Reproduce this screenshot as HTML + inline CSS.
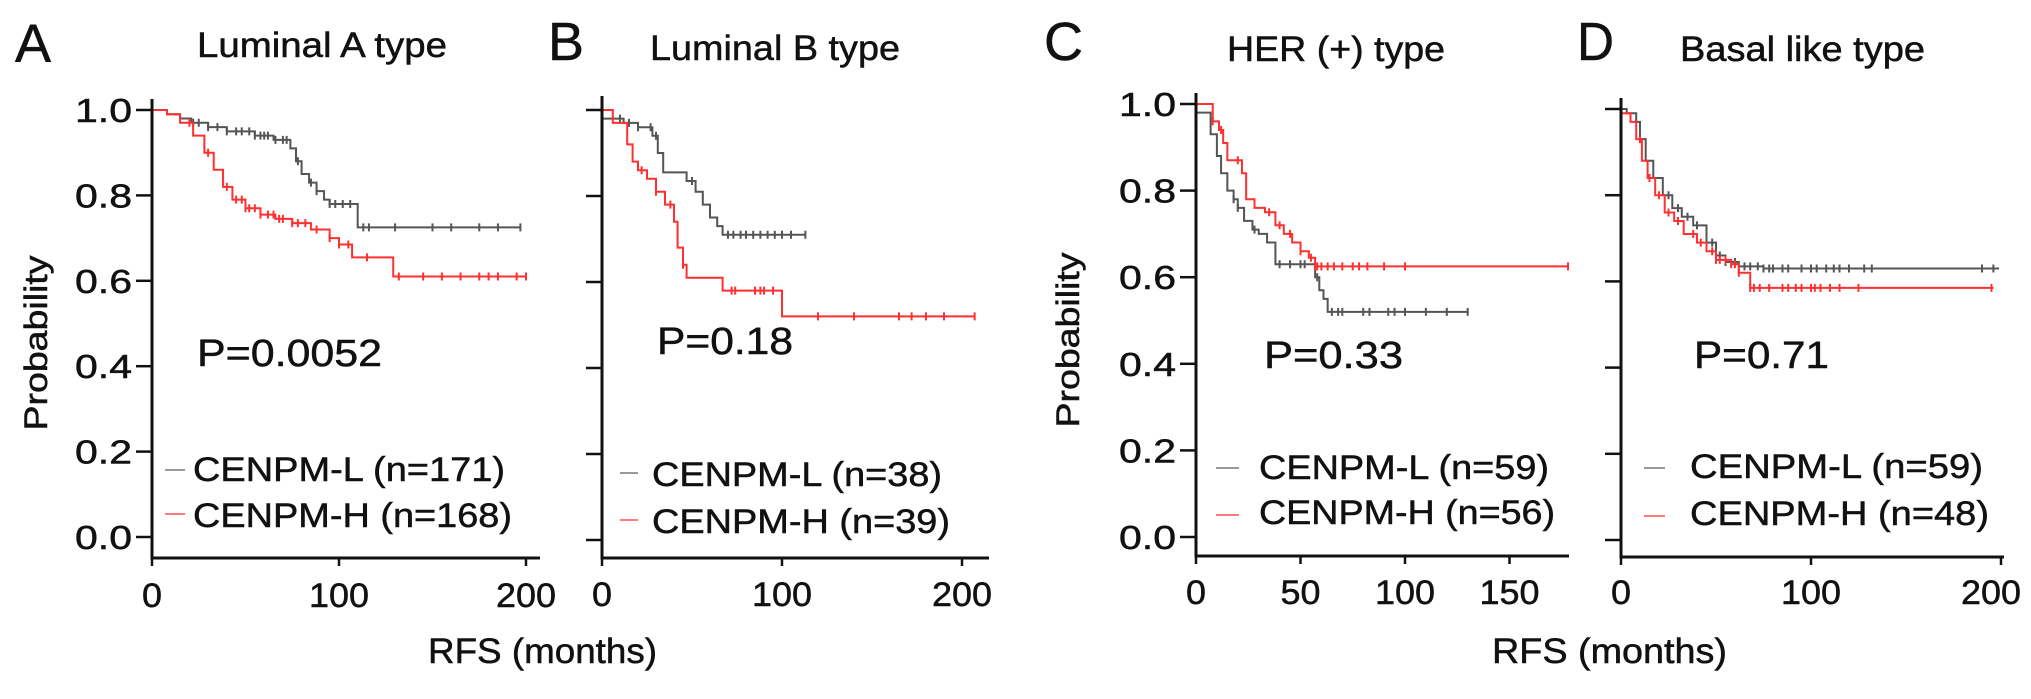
<!DOCTYPE html>
<html><head><meta charset="utf-8">
<style>
html,body{margin:0;padding:0;background:#fff;}
svg{display:block;font-family:"Liberation Sans",Arial,sans-serif;}
</style></head>
<body>
<svg id="fig" width="2031" height="699" viewBox="0 0 2031 699" xmlns="http://www.w3.org/2000/svg">
  <g fill="#111" stroke="#111" stroke-width="0.5">
    <text x="15" y="62" font-size="54" textLength="36" lengthAdjust="spacingAndGlyphs">A</text>
    <text x="548" y="60" font-size="54" textLength="36" lengthAdjust="spacingAndGlyphs">B</text>
    <text x="1044" y="60" font-size="54" textLength="39" lengthAdjust="spacingAndGlyphs">C</text>
    <text x="1577" y="60" font-size="54" textLength="37" lengthAdjust="spacingAndGlyphs">D</text>

    <text x="197" y="57" font-size="35" textLength="250" lengthAdjust="spacingAndGlyphs">Luminal A type</text>
    <text x="650" y="60" font-size="35" textLength="250" lengthAdjust="spacingAndGlyphs">Luminal B type</text>
    <text x="1227" y="61" font-size="35" textLength="218" lengthAdjust="spacingAndGlyphs">HER (+) type</text>
    <text x="1680" y="61" font-size="35" textLength="245" lengthAdjust="spacingAndGlyphs">Basal like type</text>

    <text transform="translate(47,343) rotate(-90)" text-anchor="middle" font-size="32" textLength="175" lengthAdjust="spacingAndGlyphs">Probability</text>
    <text transform="translate(1079,340) rotate(-90)" text-anchor="middle" font-size="32" textLength="175" lengthAdjust="spacingAndGlyphs">Probability</text>

    <text x="428" y="663" font-size="35" textLength="229" lengthAdjust="spacingAndGlyphs">RFS (months)</text>
    <text x="1492" y="663" font-size="35" textLength="235" lengthAdjust="spacingAndGlyphs">RFS (months)</text>

    <text x="197" y="366" font-size="38" textLength="185" lengthAdjust="spacingAndGlyphs">P=0.0052</text>
    <text x="657" y="354" font-size="38" textLength="136" lengthAdjust="spacingAndGlyphs">P=0.18</text>
    <text x="1264" y="368" font-size="38" textLength="139" lengthAdjust="spacingAndGlyphs">P=0.33</text>
    <text x="1694" y="368" font-size="38" textLength="135" lengthAdjust="spacingAndGlyphs">P=0.71</text>

    <text x="193" y="481" font-size="34" textLength="312" lengthAdjust="spacingAndGlyphs">CENPM-L (n=171)</text>
    <text x="193" y="527" font-size="34" textLength="319" lengthAdjust="spacingAndGlyphs">CENPM-H (n=168)</text>
    <text x="652" y="486" font-size="34" textLength="290" lengthAdjust="spacingAndGlyphs">CENPM-L (n=38)</text>
    <text x="652" y="533" font-size="34" textLength="298" lengthAdjust="spacingAndGlyphs">CENPM-H (n=39)</text>
    <text x="1259" y="479" font-size="34" textLength="290" lengthAdjust="spacingAndGlyphs">CENPM-L (n=59)</text>
    <text x="1259" y="524" font-size="34" textLength="296" lengthAdjust="spacingAndGlyphs">CENPM-H (n=56)</text>
    <text x="1690" y="478" font-size="34" textLength="293" lengthAdjust="spacingAndGlyphs">CENPM-L (n=59)</text>
    <text x="1690" y="525" font-size="34" textLength="299" lengthAdjust="spacingAndGlyphs">CENPM-H (n=48)</text>
  </g>
  <g stroke-width="2">
    <line x1="165" y1="470" x2="185" y2="470" stroke="#999"/>
    <line x1="165" y1="514" x2="185" y2="514" stroke="#ff7a7a"/>
    <line x1="620" y1="473" x2="638" y2="473" stroke="#999"/>
    <line x1="620" y1="520" x2="638" y2="520" stroke="#ff7a7a"/>
    <line x1="1216" y1="468" x2="1239" y2="468" stroke="#999"/>
    <line x1="1216" y1="515" x2="1239" y2="515" stroke="#ff7a7a"/>
    <line x1="1644" y1="468" x2="1665" y2="468" stroke="#999"/>
    <line x1="1644" y1="516" x2="1665" y2="516" stroke="#ff7a7a"/>
  </g>
</svg>
<script>
// ---- Panel A (Luminal A) ----
const aTimesL=[0,8,15,21,30,40,55,65,74,77,80,84,88,92,95,110,197];
const aSurvL=[1,0.99,0.98,0.97,0.96,0.95,0.94,0.93,0.91,0.88,0.85,0.83,0.81,0.79,0.78,0.725,0.725];
const aTimesH=[0,8,15,22,28,33,38,43,50,58,66,75,85,95,100,107,129,200];
const aSurvH=[1,0.99,0.97,0.94,0.90,0.86,0.82,0.79,0.77,0.755,0.745,0.735,0.72,0.70,0.685,0.655,0.61,0.61];
const aCensL=[22,25,30,35,40,45,48,52,55,58,60,62,66,70,72,78,85,88,95,98,102,106,113,116,130,150,160,175,185,197];
const aCensH=[20,30,40,45,48,50,52,55,58,62,65,68,70,75,78,82,88,95,100,105,115,132,145,155,165,175,180,185,195,200];
// ---- Panel B (Luminal B) ----
const bTimesL=[0,12,20,28,31,34,47,52,56,60,64,67,113];
const bSurvL=[0.98,0.97,0.96,0.94,0.90,0.855,0.835,0.81,0.78,0.75,0.73,0.71,0.71];
const bTimesH=[0,6,14,17,20,25,30,35,40,42,45,47,67,100,207];
const bSurvH=[1,0.97,0.92,0.88,0.86,0.84,0.81,0.78,0.74,0.68,0.64,0.61,0.58,0.52,0.52];
const bCensL=[10,15,20,27,30,50,70,73,77,80,84,88,92,96,100,105,113];
const bCensH=[22,30,38,45,72,74,85,88,90,95,120,140,165,172,180,190,207];
// ---- Panel C (HER+) ----
const cTimesL=[0,7,10,12,15,18,20,23,27,30,34,38,57,59,61,63,130];
const cSurvL=[0.98,0.93,0.88,0.84,0.80,0.78,0.76,0.73,0.71,0.70,0.68,0.63,0.60,0.57,0.55,0.52,0.52];
const cTimesH=[0,8,11,13,15,22,24,28,33,38,42,46,50,54,57,178];
const cSurvH=[1,0.96,0.94,0.91,0.87,0.84,0.78,0.76,0.75,0.72,0.70,0.68,0.66,0.645,0.625,0.625];
const cCensL=[18,20,28,40,45,50,52,58,65,68,70,80,83,92,95,100,110,120,130];
const cCensH=[8,12,20,35,40,45,50,55,57,58,60,63,66,70,75,78,82,90,100,178];
// ---- Panel D (Basal like) ----
const dTimesL=[0,3,8,10,13,17,22,27,32,38,45,50,55,62,75,199];
const dSurvL=[1,0.99,0.97,0.93,0.88,0.84,0.80,0.77,0.75,0.73,0.69,0.66,0.645,0.635,0.63,0.63];
const dTimesH=[0,5,8,11,14,18,23,28,33,40,45,50,58,62,68,196];
const dSurvH=[0.99,0.97,0.93,0.88,0.84,0.80,0.76,0.74,0.71,0.69,0.67,0.65,0.64,0.62,0.585,0.585];
const dCensL=[25,30,35,40,48,52,55,60,65,68,72,75,78,80,85,88,95,100,103,108,112,115,120,128,132,190,196];
const dCensH=[10,15,20,25,30,38,42,48,50,52,55,58,60,62,68,70,73,78,85,88,92,95,100,102,105,110,115,125,195];
// ---- tick labels ----
const yTickValues=[0,0.2,0.4,0.6,0.8,1.0];
const yTickLabels=["0.0","0.2","0.4","0.6","0.8","1.0"];
const xTicksA=[0,100,200];
const xTicksB=[0,100,200];
const xTicksC=[0,50,100,150];
const xTicksD=[0,100,200];

const NS="http://www.w3.org/2000/svg";
const svg=document.getElementById('fig');

const panels=[
 {id:'a',x0:152,ppm:1.87,y1:110,y0:537,ax:558,xEnd:540,yTop:99,lblBase:607,yLabels:true,
  tL:aTimesL,sL:aSurvL,tH:aTimesH,sH:aSurvH,cL:aCensL,cH:aCensH,xt:xTicksA},
 {id:'b',x0:602,ppm:1.8,y1:110,y0:540,ax:558,xEnd:989,yTop:96,lblBase:606,yLabels:false,
  tL:bTimesL,sL:bSurvL,tH:bTimesH,sH:bSurvH,cL:bCensL,cH:bCensH,xt:xTicksB},
 {id:'c',x0:1196,ppm:2.09,y1:104,y0:537,ax:556,xEnd:1569,yTop:93,lblBase:604,yLabels:true,
  tL:cTimesL,sL:cSurvL,tH:cTimesH,sH:cSurvH,cL:cCensL,cH:cCensH,xt:xTicksC},
 {id:'d',x0:1621,ppm:1.9,y1:109,y0:540,ax:557,xEnd:2004,yTop:98,lblBase:604,yLabels:false,
  tL:dTimesL,sL:dSurvL,tH:dTimesH,sH:dSurvH,cL:dCensL,cH:dCensH,xt:xTicksD}
];

function survAt(t,times,surv){let v=surv[0];for(let i=0;i<times.length;i++){if(times[i]<=t)v=surv[i];}return v;}

panels.forEach(p=>{
  const X=m=>p.x0+m*p.ppm;
  const Y=v=>p.y0-(p.y0-p.y1)*v;
  const g=document.createElementNS(NS,'g');
  
  
  svg.appendChild(g);

  [[p.tL,p.sL,p.cL,'#555','low'],[p.tH,p.sH,p.cH,'#ff3030','high']].forEach(([t,s,c,col,nm])=>{
    let d='M'+X(t[0])+' '+Y(s[0]);
    for(let i=1;i<t.length;i++){d+=' H'+X(t[i])+' V'+Y(s[i]);}
    const path=document.createElementNS(NS,'path');
    path.setAttribute('d',d);
    path.setAttribute('fill','none');
    path.setAttribute('stroke',col);
    path.setAttribute('stroke-width','2');
    
    
    g.appendChild(path);
    let cd='';
    c.forEach(m=>{const yy=Y(survAt(m,t,s));cd+='M'+X(m)+' '+(yy-4)+' V'+(yy+4)+' ';});
    const cp=document.createElementNS(NS,'path');
    cp.setAttribute('d',cd);
    cp.setAttribute('stroke',col);
    cp.setAttribute('stroke-width','2');
    
    
    g.appendChild(cp);
  });

  const ya=document.createElementNS(NS,'line');
  ya.setAttribute('x1',p.x0);ya.setAttribute('x2',p.x0);ya.setAttribute('y1',p.yTop);ya.setAttribute('y2',p.ax+1.5);
  ya.setAttribute('stroke','#111');ya.setAttribute('stroke-width','3');
  
  
  g.appendChild(ya);
  const xa=document.createElementNS(NS,'line');
  xa.setAttribute('x1',p.x0-1.5);xa.setAttribute('x2',p.xEnd);xa.setAttribute('y1',p.ax);xa.setAttribute('y2',p.ax);
  xa.setAttribute('stroke','#111');xa.setAttribute('stroke-width','3');
  
  
  g.appendChild(xa);

  yTickValues.forEach((v,i)=>{
    const tk=document.createElementNS(NS,'line');
    tk.setAttribute('x1',p.x0-16);tk.setAttribute('x2',p.x0);tk.setAttribute('y1',Y(v));tk.setAttribute('y2',Y(v));
    tk.setAttribute('stroke','#111');tk.setAttribute('stroke-width','2.5');
    
    
    g.appendChild(tk);
    if(p.yLabels){
      const tx=document.createElementNS(NS,'text');
      tx.textContent=yTickLabels[i];
      tx.setAttribute('x',p.x0-20);tx.setAttribute('y',Y(v)+12);
      tx.setAttribute('text-anchor','end');tx.setAttribute('font-size','33');tx.setAttribute('fill','#111');
      tx.setAttribute('stroke','#111');tx.setAttribute('stroke-width','0.5');
      tx.setAttribute('textLength','57');tx.setAttribute('lengthAdjust','spacingAndGlyphs');
      
      
      g.appendChild(tx);
    }
  });
  p.xt.forEach(m=>{
    const tk=document.createElementNS(NS,'line');
    tk.setAttribute('x1',X(m));tk.setAttribute('x2',X(m));tk.setAttribute('y1',p.ax);tk.setAttribute('y2',p.ax+8);
    tk.setAttribute('stroke','#111');tk.setAttribute('stroke-width','2.5');
    
    
    g.appendChild(tk);
    const s=String(m);
    const tx=document.createElementNS(NS,'text');
    tx.textContent=s;
    tx.setAttribute('x',Math.min(X(m),1991));tx.setAttribute('y',p.lblBase);
    tx.setAttribute('text-anchor','middle');tx.setAttribute('font-size','34');tx.setAttribute('fill','#111');
    tx.setAttribute('stroke','#111');tx.setAttribute('stroke-width','0.5');
    tx.setAttribute('textLength',String(s.length*20));tx.setAttribute('lengthAdjust','spacingAndGlyphs');
    
    
    g.appendChild(tx);
  });
});
</script>
</body></html>
